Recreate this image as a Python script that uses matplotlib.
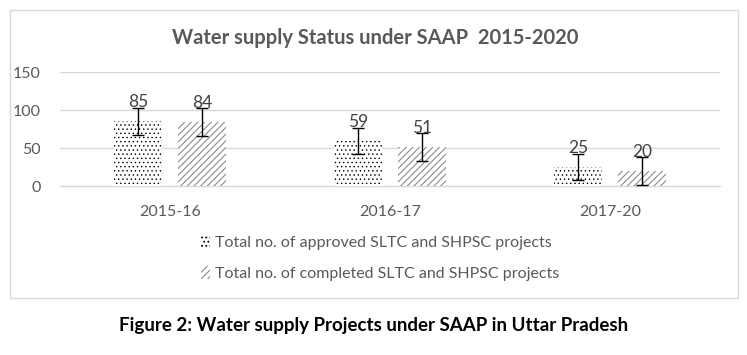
import matplotlib
matplotlib.use("Agg")
import matplotlib.pyplot as plt
from matplotlib.patches import Rectangle, Patch
import numpy as np

categories = ["2015-16", "2016-17", "2017-20"]
approved = [85, 59, 25]
completed = [84, 51, 20]
approved_err = [17.4, 17.4, 17.4]
completed_err = [18.5, 18.5, 18.5]
series_labels = ["Total no. of approved SLTC and SHPSC projects",
                 "Total no. of completed SLTC and SHPSC projects"]
yticks = [0, 50, 100, 150]
title = "Water supply Status under SAAP  2015-2020"
caption = "Figure 2: Water supply Projects under SAAP in Uttar Pradesh"

plt.rcParams['font.family'] = ['Lato', 'DejaVu Sans']

W, H = 747, 355
fig = plt.figure(figsize=(W / 100, H / 100), dpi=100)
fig.patch.set_facecolor("white")

# chart border
fig.patches.append(Rectangle((10 / W, 1 - 298 / H), 728 / W, 288 / H,
                             transform=fig.transFigure, fill=False,
                             edgecolor="#d9d9d9", linewidth=1.0))

ax = fig.add_axes([60 / W, 1 - 186 / H, 660 / W, 114 / H])
x = np.arange(len(categories))
bw = 0.22
off = 0.145
gray_text = "#595959"

plt.rcParams['hatch.linewidth'] = 0.5
b1 = ax.bar(x - off, approved, bw, facecolor="white", edgecolor="black",
            hatch="....", linewidth=0, zorder=2)
h1 = Patch(facecolor="white", edgecolor="black", hatch="....", linewidth=0)
plt.rcParams['hatch.linewidth'] = 0.8
b2 = ax.bar(x + off, completed, bw, facecolor="white", edgecolor="#8c8c8c",
            hatch="/////", linewidth=0, zorder=2)
h2 = Patch(facecolor="white", edgecolor="#8c8c8c", hatch="/////", linewidth=0)

ax.errorbar(x - off, approved, yerr=approved_err, fmt="none", ecolor="black",
            elinewidth=1.0, capsize=4, capthick=1.0, zorder=3)
ax.errorbar(x + off, completed, yerr=completed_err, fmt="none", ecolor="black",
            elinewidth=1.0, capsize=4, capthick=1.0, zorder=3)

for xi, v in zip(x - off, approved):
    ax.annotate(str(v), (xi, v), xytext=(0, 8), textcoords="offset points",
                ha="center", va="bottom", fontsize=12.5, color="#404040", zorder=4)
for xi, v in zip(x + off, completed):
    ax.annotate(str(v), (xi, v), xytext=(0, 8), textcoords="offset points",
                ha="center", va="bottom", fontsize=12.5, color="#404040", zorder=4)

ax.set_xlim(-0.5, 2.5)
ax.set_ylim(0, 150)
ax.set_yticks(yticks)
ax.set_xticks(x)
ax.set_xticklabels(categories)
ax.tick_params(axis="both", length=0, labelsize=11.5, colors=gray_text)
ax.tick_params(axis="x", pad=14)
ax.tick_params(axis="y", pad=14)
for s in ax.spines.values():
    s.set_visible(False)
ax.grid(axis="y", color="#d9d9d9", linewidth=1.0, zorder=0)
ax.axhline(0, color="#d9d9d9", linewidth=1.0, zorder=1, clip_on=False)
ax.set_axisbelow(True)

fig.text(375 / W, 1 - 38 / H, title, ha="center", va="center",
         fontsize=14.5, fontweight="bold", color=gray_text)

leg = fig.legend([h1, h2], series_labels, loc="center", ncol=1,
                 bbox_to_anchor=(380 / W, 1 - 258 / H), frameon=False,
                 fontsize=11.5, labelcolor=gray_text, handlelength=0.6,
                 handleheight=0.9, handletextpad=0.3, labelspacing=1.0)

fig.text(374 / W, 1 - 326 / H, caption, ha="center", va="center",
         fontsize=13.5, fontweight="bold", color="black")

fig.savefig("out.png", dpi=100)
